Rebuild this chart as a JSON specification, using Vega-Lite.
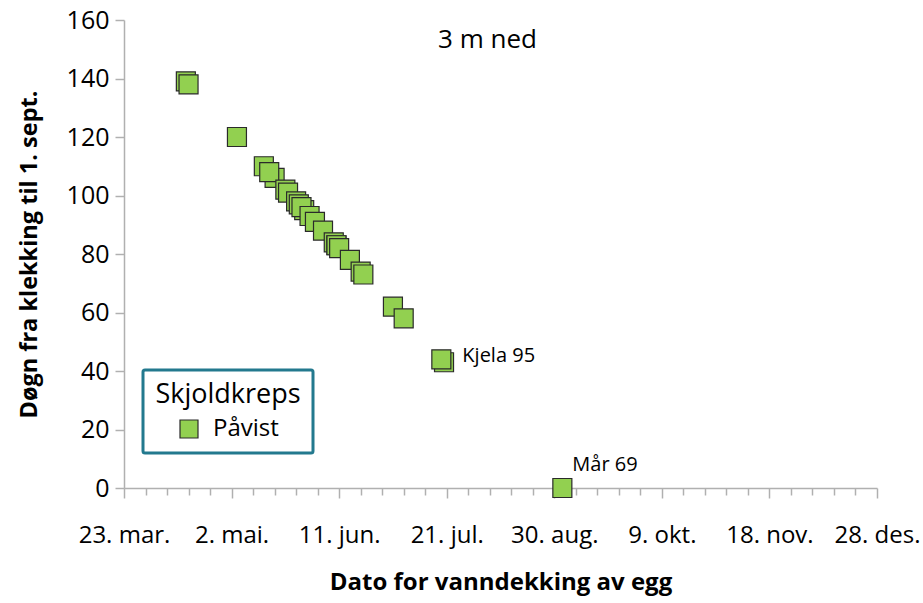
{
  "$schema": "https://vega.github.io/schema/vega-lite/v6.json",
  "autosize": "none",
  "padding": {"left": 124, "top": 20, "right": 46, "bottom": 115},
  "width": 753,
  "height": 468,
  "background": "white",
  "config": {
    "font": "Open Sans",
    "view": {"stroke": null},
    "legend": {"strokeWidth": 3}
  },
  "title": {
    "text": "3 m ned",
    "anchor": "middle",
    "frame": "group",
    "baseline": "middle",
    "offset": -20,
    "dx": -13,
    "dy": 38,
    "fontSize": 26,
    "fontWeight": "normal",
    "font": "Open Sans",
    "color": "#000000"
  },
  "data": {
    "values": [
      {"dato": "2009-04-15", "dogn": 139, "status": "Påvist", "label": null},
      {"dato": "2009-04-16", "dogn": 138, "status": "Påvist", "label": null},
      {"dato": "2009-05-04", "dogn": 120, "status": "Påvist", "label": null},
      {"dato": "2009-05-14", "dogn": 110, "status": "Påvist", "label": null},
      {"dato": "2009-05-18", "dogn": 106, "status": "Påvist", "label": null},
      {"dato": "2009-05-16", "dogn": 108, "status": "Påvist", "label": null},
      {"dato": "2009-05-22", "dogn": 102, "status": "Påvist", "label": null},
      {"dato": "2009-05-23", "dogn": 101, "status": "Påvist", "label": null},
      {"dato": "2009-05-26", "dogn": 98, "status": "Påvist", "label": null},
      {"dato": "2009-05-27", "dogn": 97, "status": "Påvist", "label": null},
      {"dato": "2009-05-29", "dogn": 95, "status": "Påvist", "label": null},
      {"dato": "2009-05-28", "dogn": 96, "status": "Påvist", "label": null},
      {"dato": "2009-05-31", "dogn": 93, "status": "Påvist", "label": null},
      {"dato": "2009-06-02", "dogn": 91, "status": "Påvist", "label": null},
      {"dato": "2009-06-05", "dogn": 88, "status": "Påvist", "label": null},
      {"dato": "2009-06-09", "dogn": 84, "status": "Påvist", "label": null},
      {"dato": "2009-06-10", "dogn": 83, "status": "Påvist", "label": null},
      {"dato": "2009-06-10", "dogn": 83, "status": "Påvist", "label": null},
      {"dato": "2009-06-11", "dogn": 82, "status": "Påvist", "label": null},
      {"dato": "2009-06-15", "dogn": 78, "status": "Påvist", "label": null},
      {"dato": "2009-06-19", "dogn": 74, "status": "Påvist", "label": null},
      {"dato": "2009-06-20", "dogn": 73, "status": "Påvist", "label": null},
      {"dato": "2009-07-01", "dogn": 62, "status": "Påvist", "label": null},
      {"dato": "2009-07-05", "dogn": 58, "status": "Påvist", "label": null},
      {"dato": "2009-07-20", "dogn": 43, "status": "Påvist", "label": null},
      {"dato": "2009-07-19", "dogn": 44, "status": "Påvist", "label": "Kjela 95"},
      {"dato": "2009-09-02", "dogn": 0, "status": "Påvist", "label": "Mår 69"}
    ]
  },
  "encoding": {
    "x": {
      "field": "dato",
      "type": "temporal",
      "title": "Dato for vanndekking av egg",
      "scale": {
        "type": "utc",
        "domain": [
          {"year": 2009, "month": 3, "date": 23, "utc": true},
          {"year": 2009, "month": 12, "date": 28, "utc": true}
        ],
        "nice": false
      },
      "axis": {
        "values": [
          {"year": 2009, "month": 3, "date": 23, "utc": true},
          {"year": 2009, "month": 3, "date": 31, "utc": true},
          {"year": 2009, "month": 4, "date": 8, "utc": true},
          {"year": 2009, "month": 4, "date": 16, "utc": true},
          {"year": 2009, "month": 4, "date": 24, "utc": true},
          {"year": 2009, "month": 5, "date": 2, "utc": true},
          {"year": 2009, "month": 5, "date": 10, "utc": true},
          {"year": 2009, "month": 5, "date": 18, "utc": true},
          {"year": 2009, "month": 5, "date": 26, "utc": true},
          {"year": 2009, "month": 6, "date": 3, "utc": true},
          {"year": 2009, "month": 6, "date": 11, "utc": true},
          {"year": 2009, "month": 6, "date": 19, "utc": true},
          {"year": 2009, "month": 6, "date": 27, "utc": true},
          {"year": 2009, "month": 7, "date": 5, "utc": true},
          {"year": 2009, "month": 7, "date": 13, "utc": true},
          {"year": 2009, "month": 7, "date": 21, "utc": true},
          {"year": 2009, "month": 7, "date": 29, "utc": true},
          {"year": 2009, "month": 8, "date": 6, "utc": true},
          {"year": 2009, "month": 8, "date": 14, "utc": true},
          {"year": 2009, "month": 8, "date": 22, "utc": true},
          {"year": 2009, "month": 8, "date": 30, "utc": true},
          {"year": 2009, "month": 9, "date": 7, "utc": true},
          {"year": 2009, "month": 9, "date": 15, "utc": true},
          {"year": 2009, "month": 9, "date": 23, "utc": true},
          {"year": 2009, "month": 10, "date": 1, "utc": true},
          {"year": 2009, "month": 10, "date": 9, "utc": true},
          {"year": 2009, "month": 10, "date": 17, "utc": true},
          {"year": 2009, "month": 10, "date": 25, "utc": true},
          {"year": 2009, "month": 11, "date": 2, "utc": true},
          {"year": 2009, "month": 11, "date": 10, "utc": true},
          {"year": 2009, "month": 11, "date": 18, "utc": true},
          {"year": 2009, "month": 11, "date": 26, "utc": true},
          {"year": 2009, "month": 12, "date": 4, "utc": true},
          {"year": 2009, "month": 12, "date": 12, "utc": true},
          {"year": 2009, "month": 12, "date": 20, "utc": true},
          {"year": 2009, "month": 12, "date": 28, "utc": true}
        ],
        "labelExpr": "round((datum.value - utc(2009,2,23)) / 86400000) % 40 == 0 ? utcdate(datum.value) + '. ' + ['jan','feb','mar','apr','mai','jun','jul','aug','sep','okt','nov','des'][utcmonth(datum.value)] + '.' : ''",
        "labelOverlap": false,
        "labelFlush": false,
        "labelBound": false,
        "labelFontSize": 24,
        "labelColor": "#000000",
        "labelPadding": 25,
        "tickSize": {"condition": {"test": "round((datum.value - utc(2009,2,23)) / 86400000) % 40 == 0", "value": 10}, "value": 7},
        "tickColor": "#b0b0b0",
        "tickWidth": 1.5,
        "domainColor": "#b0b0b0",
        "domainWidth": 1.5,
        "grid": false,
        "titleFontSize": 24,
        "titleFontWeight": "bold",
        "titleColor": "#000000",
        "titlePadding": 23
      }
    },
    "y": {
      "field": "dogn",
      "type": "quantitative",
      "title": "Døgn fra klekking til 1. sept.",
      "scale": {"domain": [0, 160], "nice": false, "zero": true},
      "axis": {
        "values": [0, 20, 40, 60, 80, 100, 120, 140, 160],
        "labelFontSize": 25,
        "labelColor": "#000000",
        "labelPadding": 6,
        "tickSize": 9,
        "tickColor": "#b0b0b0",
        "tickWidth": 1.5,
        "domainColor": "#b0b0b0",
        "domainWidth": 1.5,
        "grid": false,
        "titleFontSize": 23.5,
        "titleFontWeight": "bold",
        "titleColor": "#000000",
        "titlePadding": 25
      }
    }
  },
  "layer": [
    {
      "mark": {"type": "point", "shape": "square", "filled": true, "size": 361, "stroke": "#2a2a2a", "strokeWidth": 1.2, "opacity": 1},
      "encoding": {
        "color": {
          "field": "status",
          "type": "nominal",
          "scale": {"range": ["#92D050"]},
          "legend": {
            "title": "Skjoldkreps",
            "orient": "none",
            "legendX": 19,
            "legendY": 350,
            "padding": 12,
            "strokeColor": "#23798e",
            "cornerRadius": 2,
            "fillColor": "white",
            "titleFontSize": 27,
            "titleFontWeight": "normal",
            "titleColor": "#000000",
            "titleAnchor": "middle",
            "titlePadding": 8,
            "labelFontSize": 24,
            "labelColor": "#000000",
            "labelOffset": 12,
            "symbolType": "square",
            "symbolSize": 324,
            "symbolStrokeColor": "#2a2a2a",
            "symbolStrokeWidth": 1.2,
            "symbolOffset": 0,
            "encode": {"legend": {"update": {"strokeWidth": {"value": 3}}}}
          }
        }
      }
    },
    {
      "transform": [{"filter": "datum.label == 'Kjela 95'"}],
      "mark": {"type": "text", "align": "left", "baseline": "middle", "dx": 21, "dy": -3, "fontSize": 20, "color": "#000000"},
      "encoding": {"text": {"field": "label"}}
    },
    {
      "transform": [{"filter": "datum.label == 'Mår 69'"}],
      "mark": {"type": "text", "align": "left", "baseline": "middle", "dx": 10, "dy": -23, "fontSize": 20, "color": "#000000"},
      "encoding": {"text": {"field": "label"}}
    }
  ]
}
